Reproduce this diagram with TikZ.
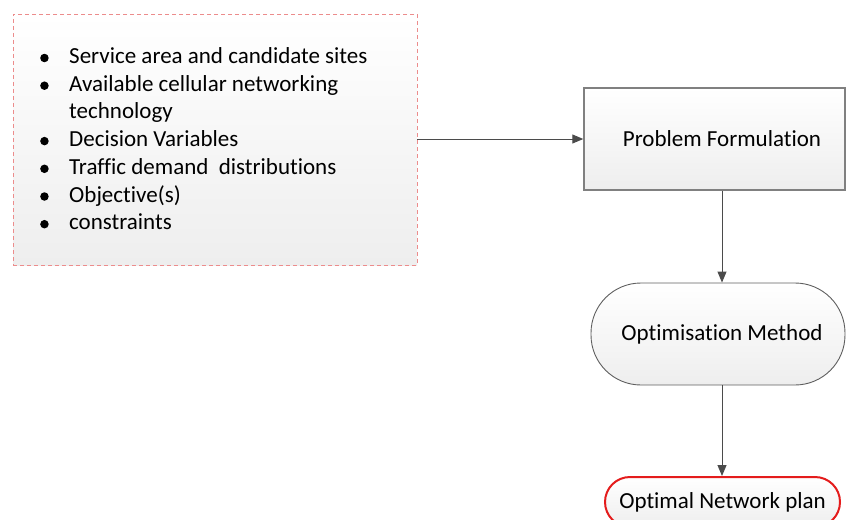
\documentclass[tikz,border=0pt]{standalone}
\usepackage{fontspec}
\setmainfont{Carlito}[Ligatures={NoCommon}]
\usetikzlibrary{arrows.meta}

\definecolor{dashpink}{RGB}{236,140,140}
\definecolor{framegray}{RGB}{128,128,128}
\definecolor{edgegray}{RGB}{95,95,95}
\definecolor{arrowgray}{RGB}{75,75,75}
\definecolor{fillmid}{RGB}{246,246,246}
\definecolor{fillbot}{RGB}{238,238,238}
\definecolor{planred}{RGB}{228,28,28}

\tikzset{
  softfill/.style={top color=white, middle color=fillmid, bottom color=fillbot},
  flowarrow/.style={draw=arrowgray, line width=1pt, -{Triangle[length=11pt,width=9pt]}},
  labeltext/.style={font=\fontsize{23}{27}\selectfont, text=black},
  dot/.style={fill=black, circle, inner sep=0pt, minimum size=8.5pt},
}

\begin{document}
\begin{tikzpicture}[x=1pt,y=-1pt]
  \useasboundingbox (0,0) rectangle (848,519);
  \clip (0,0) rectangle (848,519);

  % input list box
  \node[draw=dashpink, dashed, dash pattern=on 4pt off 3pt, line width=0.9pt, softfill,
        minimum width=404pt, minimum height=251pt, inner sep=0pt] (inputs) at (215,139.5) {};
  \node[anchor=base west, inner sep=0pt, font=\fontsize{23}{27.7}\selectfont] (items) at (40,63.5)
    {\begin{tabular}[t]{@{}p{29pt}@{}l@{}}
      \tikz[baseline=-5.5pt]\node[dot]{}; & Service area and candidate sites\\
      \tikz[baseline=-5.5pt]\node[dot]{}; & Available cellular networking\\
       & technology\\
      \tikz[baseline=-5.5pt]\node[dot]{}; & Decision Variables\\
      \tikz[baseline=-5.5pt]\node[dot]{}; & Traffic demand\ \ distributions\\
      \tikz[baseline=-5.5pt]\node[dot]{}; & Objective(s)\\
      \tikz[baseline=-5.5pt]\node[dot]{}; & constraints
    \end{tabular}};

  % process blocks
  \node[draw=framegray, line width=1.4pt, softfill, minimum width=261pt, minimum height=102pt,
        inner sep=0pt] (formulation) at (714.5,139) {};
  \node[labeltext] (formtext) at (722,139) {Problem Formulation};

  \node[draw=edgegray, line width=0.9pt, softfill, rounded corners=50pt, minimum width=254pt,
        minimum height=102pt, inner sep=0pt] (method) at (718,334) {};
  \node[labeltext] (methodtext) at (722,334) {Optimisation Method};

  \node[draw=planred, line width=2pt, softfill, rounded corners=25pt, minimum width=235pt,
        minimum height=50pt, inner sep=0pt, labeltext] (plan) at (722.5,502) {Optimal Network plan};

  % connectors
  \coordinate (axis) at (722,0);
  \draw[flowarrow] (inputs.east |- formulation.west) -- (formulation.west);
  \draw[flowarrow] (formulation.south -| axis) -- (method.north -| axis);
  \draw[flowarrow] (method.south -| axis) -- (plan.north -| axis);
\end{tikzpicture}
\end{document}
